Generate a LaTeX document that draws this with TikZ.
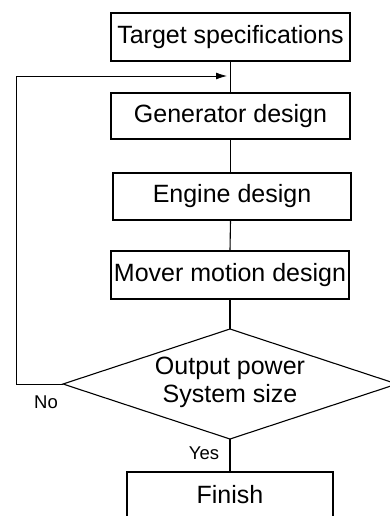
\documentclass[tikz,border=0pt]{standalone}
\usepackage{fontspec}
\setmainfont{Liberation Sans}
\usetikzlibrary{arrows.meta}
\begin{document}
\begin{tikzpicture}[x=1pt,y=-1pt,
  stepbox/.style={draw,line width=1.1pt,inner sep=0pt,minimum height=#1,
    font=\fontsize{25}{28}\selectfont},
  stepbox/.default=47pt,
  decision/.style={line width=1.1pt,line join=miter},
  decisiontext/.style={align=center,inner sep=0pt,
    font=\fontsize{25}{28}\selectfont},
  link/.style={line width=1.1pt},
  feedback/.style={line width=0.8pt,-{Latex[length=11pt,width=7pt]}},
  lbl/.style={font=\fontsize{18.5}{22}\selectfont,inner sep=0pt}]
\useasboundingbox (0,0) rectangle (389,516);

% process steps
\node[stepbox=48pt,minimum width=239pt] (target) at (230.5,37) {Target specifications};
\node[stepbox=46pt,minimum width=239pt] (gen) at (230.5,116) {Generator design};
\node[stepbox=47pt,minimum width=238pt] (engine) at (232,196.5) {Engine design};
\node[stepbox=48pt,minimum width=238pt] (mover) at (230,275) {Mover motion design};
\node[stepbox=46pt,minimum width=206pt] (finish) at (230,495) {Finish};

% decision diamond
\coordinate (dtop) at (230,329);
\coordinate (dleft) at (63,384);
\coordinate (dright) at (397,384);
\coordinate (dbot) at (230,439);
\draw[decision] (dtop) -- (dright) -- (dbot) -- (dleft) -- cycle;
\node[decisiontext] (check) at (230,382) {Output power\\System size};

% main flow
\draw[link] (target.south) -- (gen.north);
\draw[link] (gen.south) -- (gen.south |- engine.north);
\draw[link] (gen.south |- engine.south) -- (mover.north);
\draw[link] (mover.south) -- (dtop);
\draw[link] (dbot) -- (finish.north);

% loop back when the check fails
\coordinate (corner) at (16,76);
\coordinate (entry) at (227,76);
\draw[feedback] (dleft) -| (corner) -- (entry);

% branch labels
\node[lbl] (no) at (46,402) {No};
\node[lbl] (yes) at (204,453) {Yes};
\end{tikzpicture}
\end{document}
